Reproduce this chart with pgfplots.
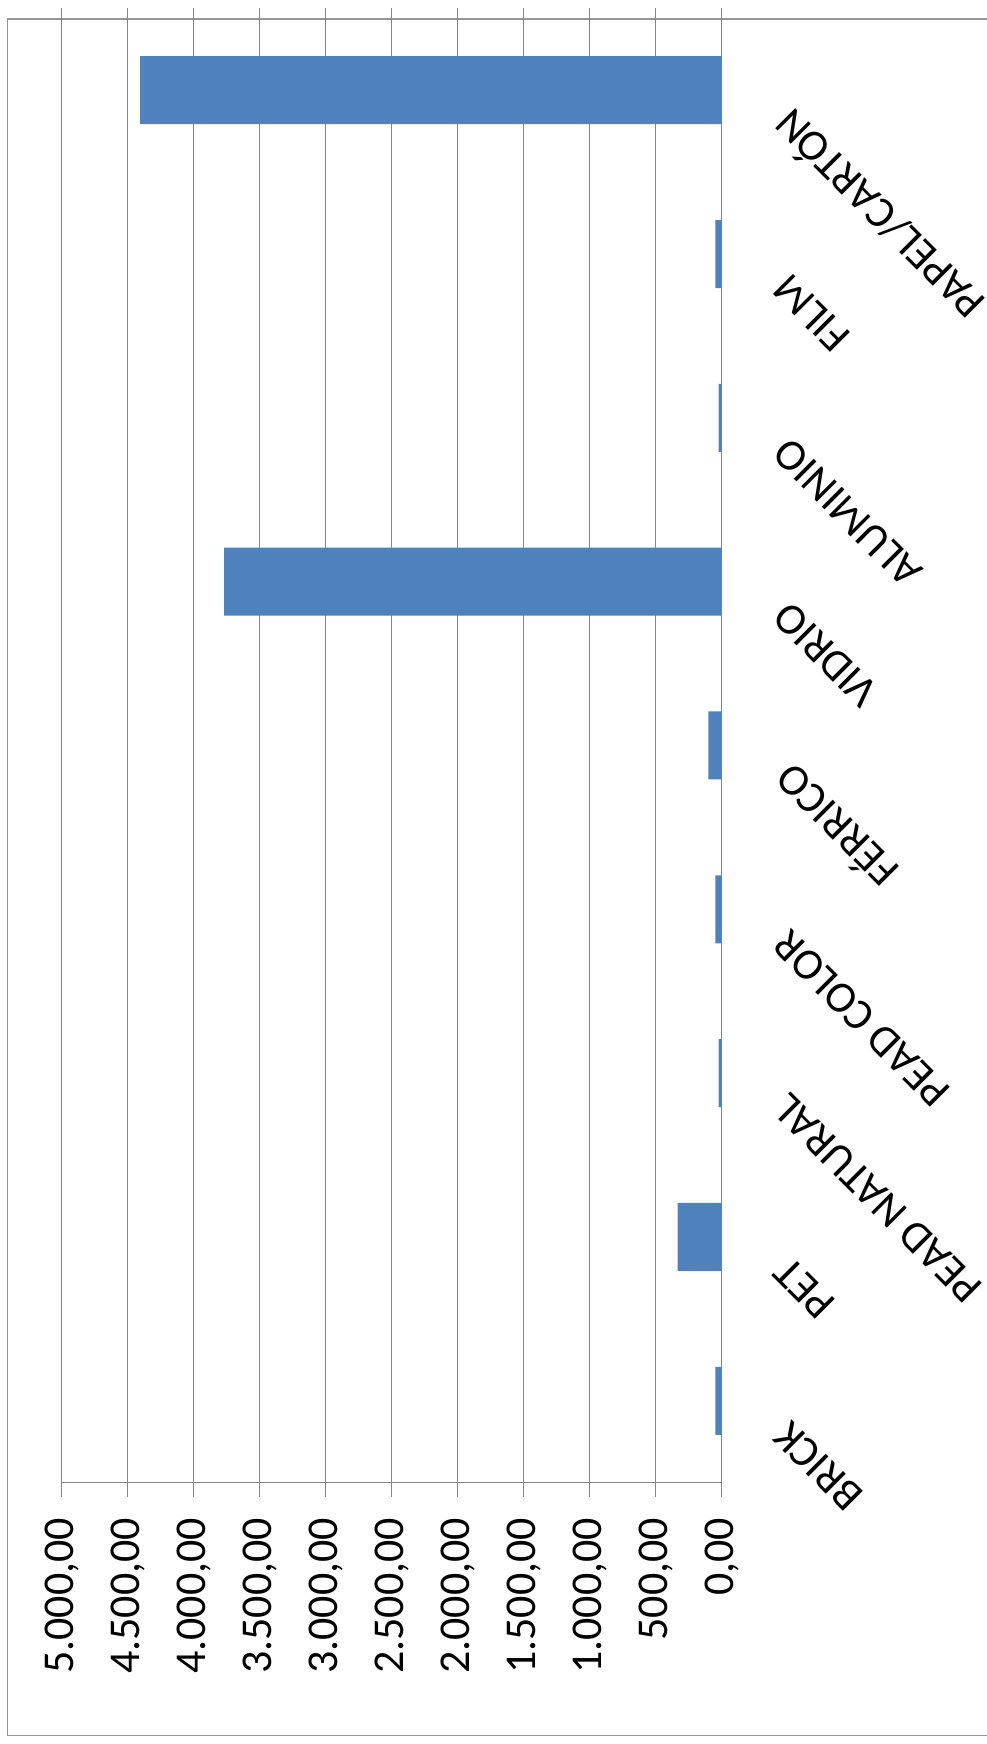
\documentclass[border=0pt]{standalone}
\usepackage{pgfplots}
\pgfplotsset{compat=1.18}
\usepackage{fontspec}
\setmainfont{Carlito}
\definecolor{barblue}{RGB}{79,129,189}
\definecolor{gridgray}{RGB}{134,134,134}
\definecolor{framegray}{RGB}{150,150,150}
\begin{document}
\begin{tikzpicture}
\useasboundingbox (0,0) rectangle (493pt,872pt);
\draw[framegray, line width=0.7pt] (500pt,862.5pt) -- (3.65pt,862.5pt) -- (3.65pt,4.15pt) -- (500pt,4.15pt);
\begin{axis}[
  at={(30.85pt,130.65pt)}, anchor=south west,
  scale only axis, width=330pt, height=737.2pt,
  xbar, bar width=34pt,
  x dir=reverse,
  xmin=0, xmax=5000,
  ymin=-0.5, ymax=8.5,
  axis x line*=bottom, axis y line*=right,
  axis line style={gridgray, line width=0.6pt},
  xtick={0,500,...,5000},
  xticklabels={{0,00},{500,00},{1.000,00},{1.500,00},{2.000,00},{2.500,00},{3.000,00},{3.500,00},{4.000,00},{4.500,00},{5.000,00}},
  xmajorgrids,
  major grid style={gridgray, line width=0.5pt},
  ytick={0,...,8},
  yticklabels={BRICK,PET,PEAD NATURAL,PEAD COLOR,FÉRRICO,VIDRIO,ALUMINIO,FILM,PAPEL/CARTÓN},
  minor ytick={-0.5,0.5,...,8.5},
  tick align=outside,
  major tick length=7pt,
  minor tick length=6.3pt,
  ytick style={draw=none},
  minor tick style={draw=gridgray, line width=0.6pt},
  xtick style={gridgray, line width=0.6pt},
  tick label style={font=\fontsize{22}{26}\selectfont},
  xticklabel style={inner sep=0pt, yshift=-10.5pt, rotate=90, anchor=east},
  yticklabel style={inner sep=0pt, xshift=22.5pt, yshift=-14pt, rotate=135, anchor=east},
]
\addplot[fill=barblue, draw=none] coordinates {(47,0) (333,1) (23,2) (47,3) (101,4) (3770,5) (23,6) (47,7) (4405,8)};
\end{axis}
\end{tikzpicture}
\end{document}
